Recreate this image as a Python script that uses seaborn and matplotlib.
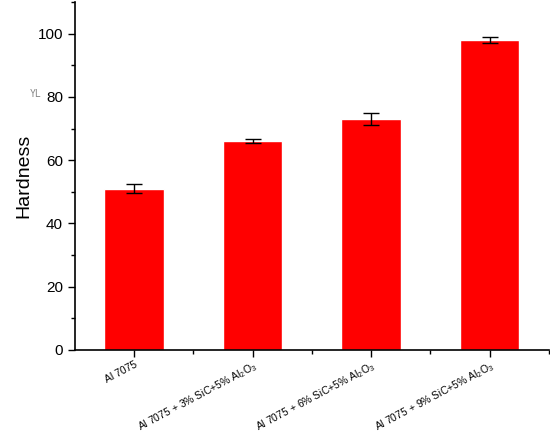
import matplotlib
matplotlib.use("Agg")
import matplotlib.pyplot as plt
from matplotlib.ticker import MultipleLocator, FixedLocator
import seaborn as sns
import pandas as pd

# datos
muestras = [
    "Al 7075",
    "Al 7075 + 3% SiC+5% Al$_2$O$_3$",
    "Al 7075 + 6% SiC+5% Al$_2$O$_3$",
    "Al 7075 + 9% SiC+5% Al$_2$O$_3$",
]
dureza = [51.0, 66.0, 73.0, 98.0]
error = [1.5, 0.7, 2.0, 1.0]

sns.set_style("ticks")
plt.rcParams["font.family"] = ["Liberation Sans", "DejaVu Sans"]
plt.rcParams["mathtext.fontset"] = "custom"
plt.rcParams["mathtext.rm"] = "Liberation Sans"
plt.rcParams["text.color"] = "black"
plt.rcParams["xtick.color"] = "black"
plt.rcParams["ytick.color"] = "black"
plt.rcParams["axes.labelcolor"] = "black"

df = pd.DataFrame({"muestra": muestras, "dureza": dureza})

fig = plt.figure(figsize=(5.5, 4.33), dpi=100)
ax = fig.add_axes([0.136, 0.192, 0.862, 0.803])

sns.barplot(data=df, x="muestra", y="dureza", color="#ff0000",
            saturation=1, width=0.5, errorbar=None, ax=ax)
ax.errorbar(range(len(muestras)), dureza, yerr=error, fmt="none",
            ecolor="black", elinewidth=1, capsize=6, capthick=1)

ax.set_xlim(-0.5, 3.5)
ax.set_ylim(0, 110)
ax.yaxis.set_major_locator(MultipleLocator(20))
ax.yaxis.set_minor_locator(MultipleLocator(10))
ax.xaxis.set_minor_locator(FixedLocator([0.5, 1.5, 2.5, 3.5]))

ax.tick_params(axis="both", which="major", direction="out", length=5,
               width=1, color="black")
ax.tick_params(axis="both", which="minor", direction="out", length=3,
               width=1, color="black")
ax.tick_params(axis="y", labelsize=11, labelcolor="black")
ax.tick_params(axis="x", labelsize=7.5, pad=2, labelcolor="black")
plt.setp(ax.get_xticklabels(), rotation=28, ha="right", rotation_mode="anchor")

for s in ["left", "bottom"]:
    ax.spines[s].set_linewidth(1.2)
    ax.spines[s].set_color("black")
sns.despine(ax=ax)

ax.set_xlabel("")
ax.set_ylabel("Hardness", fontsize=14)
fig.text(0.055, 0.775, "YL", fontsize=7, color="#888888",
         family="DejaVu Sans Mono")

fig.savefig("out.png", dpi=100)
